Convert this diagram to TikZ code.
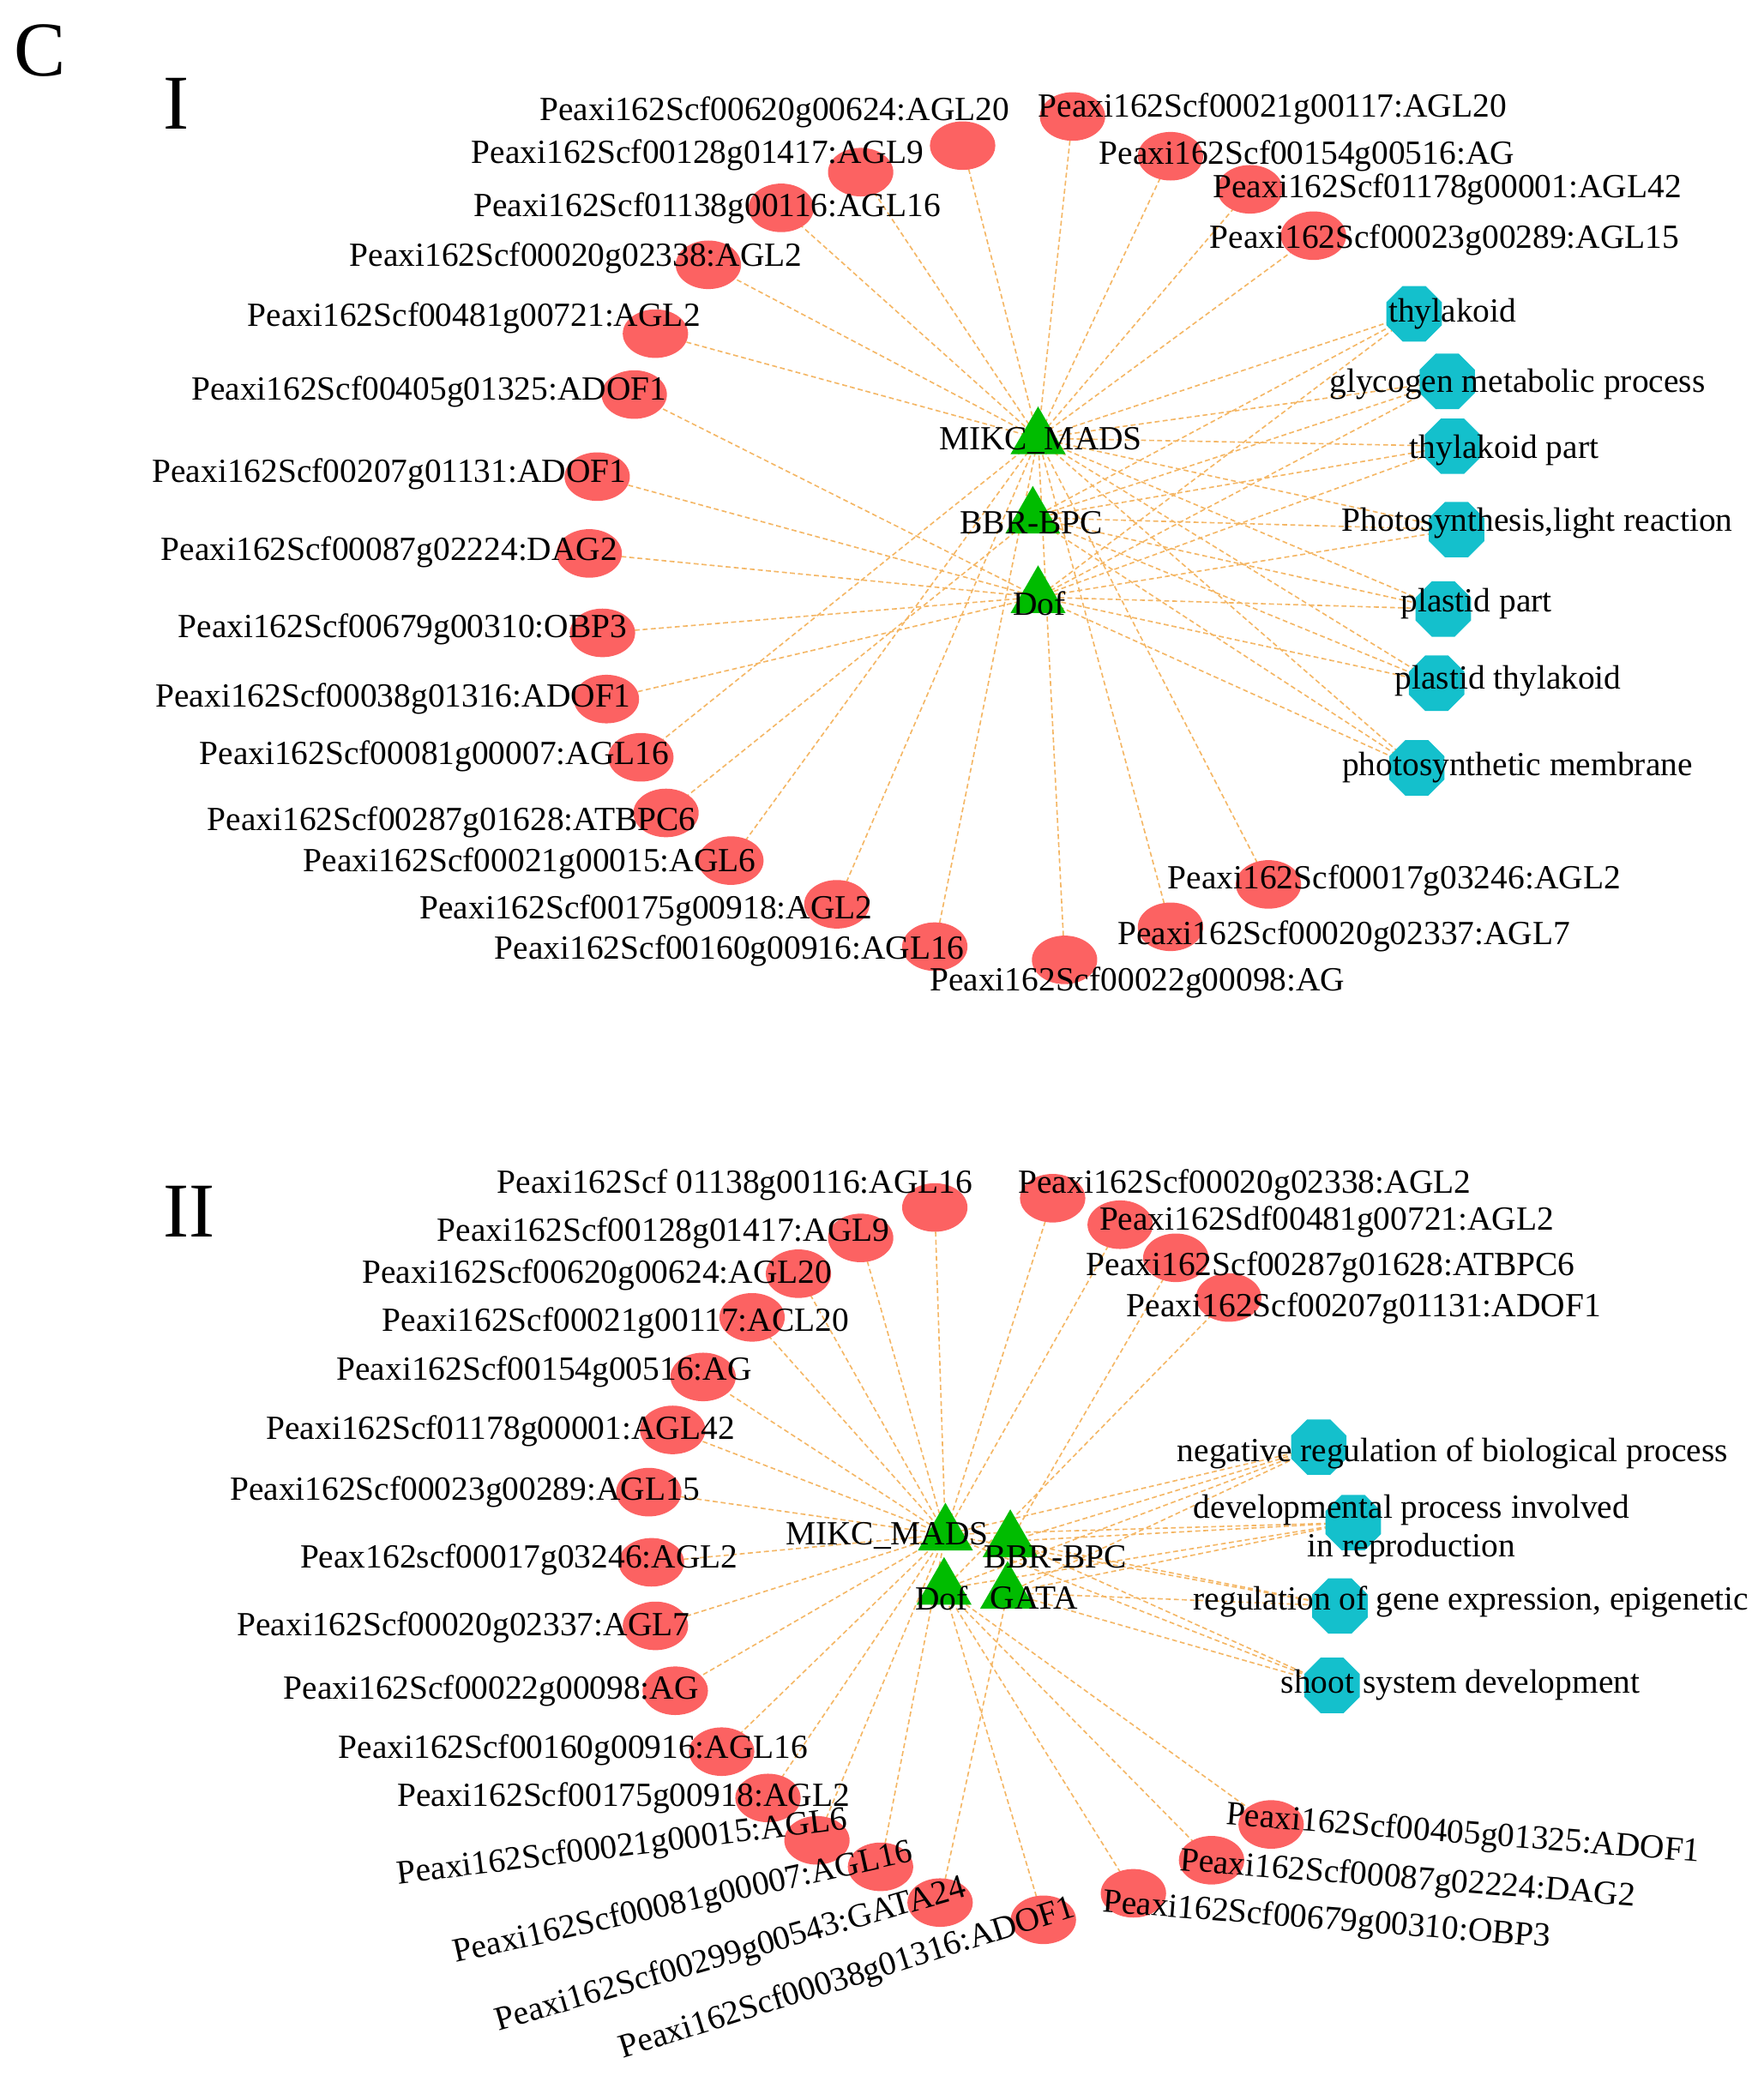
\documentclass[tikz,border=0pt]{standalone}
\usepackage{fontspec}
\setmainfont{Liberation Serif}
\usetikzlibrary{shapes.geometric}
\pgfdeclarelayer{bg}
\pgfsetlayers{bg,main}
\definecolor{nred}{RGB}{252,98,98}
\definecolor{ncyan}{RGB}{20,192,204}
\definecolor{ngreen}{RGB}{0,188,0}
\definecolor{eorange}{RGB}{244,182,100}
\tikzset{
  gene/.style={ellipse, fill=nred, draw=none, minimum width=0.74cm, minimum height=0.55cm, inner sep=0pt},
  term/.style={regular polygon, regular polygon sides=8, fill=ncyan, draw=none, minimum size=0.68cm, inner sep=0pt},
  hub/.style={regular polygon, regular polygon sides=3, fill=ngreen, draw=none, minimum size=0.72cm, inner sep=0pt},
  lbl/.style={font=\fontsize{10.9}{12.5}\selectfont, inner sep=0pt, text=black},
  big/.style={font=\fontsize{25}{28}\selectfont, inner sep=0pt},
  lnk/.style={draw=eorange, line width=0.45pt, dash pattern=on 1.6pt off 1pt},
}
\begin{document}
\begin{tikzpicture}[x=0.015cm,y=-0.015cm]
\useasboundingbox (0,0) rectangle (1332,1568);
\node[big] (lC) at (30,38) {C};
\node[big] (lI) at (133,78) {I};
\node[big] (lII) at (143,915) {II};

% ---------------- Part I ----------------
\node[hub] (m1) at (784,331) {};
\node[hub] (b1) at (780,391) {};
\node[hub] (d1) at (784,451) {};

\node[gene] (g1) at (727,110) {};
\node[gene] (g2) at (810,88) {};
\node[gene] (g3) at (650,130) {};
\node[gene] (g4) at (884,118) {};
\node[gene] (g5) at (944,143) {};
\node[gene] (g6) at (590,157) {};
\node[gene] (g7) at (992,178) {};
\node[gene] (g8) at (535,200) {};
\node[gene] (g9) at (495,252) {};
\node[gene] (g10) at (479,298) {};
\node[gene] (g11) at (451,360) {};
\node[gene] (g12) at (445,418) {};
\node[gene] (g13) at (455,478) {};
\node[gene] (g14) at (458,528) {};
\node[gene] (g15) at (484,572) {};
\node[gene] (g16) at (503,614) {};
\node[gene] (g17) at (552,650) {};
\node[gene] (g18) at (632,683) {};
\node[gene] (g19) at (706,715) {};
\node[gene] (g20) at (804,725) {};
\node[gene] (g21) at (884,700) {};
\node[gene] (g22) at (958,668) {};

\node[term] (c1) at (1068,237) {};
\node[term] (c2) at (1093,288) {};
\node[term] (c3) at (1097,337) {};
\node[term] (c4) at (1100,400) {};
\node[term] (c5) at (1090,460) {};
\node[term] (c6) at (1085,516) {};
\node[term] (c7) at (1070,580) {};

\begin{pgfonlayer}{bg}
\foreach \g in {g1,g2,g3,g4,g5,g6,g7,g8,g9,g15,g17,g18,g19,g20,g21,g22}
  \draw[lnk] (\g.center) -- (m1.center);
\foreach \g in {g10,g11,g12,g13,g14}
  \draw[lnk] (\g.center) -- (d1.center);
\draw[lnk] (g16.center) -- (b1.center);
\foreach \c in {c1,c2,c3,c4,c5,c6,c7}{
  \draw[lnk] (\c.center) -- (m1.center);
  \draw[lnk] (\c.center) -- (b1.center);
  \draw[lnk] (\c.center) -- (d1.center);
}
\end{pgfonlayer}

\node[lbl] (m1t) at (786,333) {MIKC\_MADS};
\node[lbl] (b1t) at (779,395) {BBR-BPC};
\node[lbl] (d1t) at (785,456) {Dof};

\node[lbl] (g1t) at (585,85) {Peaxi162Scf00620g00624:AGL20};
\node[lbl] (g2t) at (961,82) {Peaxi162Scf00021g00117:AGL20};
\node[lbl] (g3t) at (527,117) {Peaxi162Scf00128g01417:AGL9};
\node[lbl] (g4t) at (987,118) {Peaxi162Scf00154g00516:AG};
\node[lbl] (g5t) at (1093,143) {Peaxi162Scf01178g00001:AGL42};
\node[lbl] (g6t) at (534,157) {Peaxi162Scf01138g00116:AGL16};
\node[lbl] (g7t) at (1091,181) {Peaxi162Scf00023g00289:AGL15};
\node[lbl] (g8t) at (435,195) {Peaxi162Scf00020g02338:AGL2};
\node[lbl] (g9t) at (358,240) {Peaxi162Scf00481g00721:AGL2};
\node[lbl] (g10t) at (324,296) {Peaxi162Scf00405g01325:ADOF1};
\node[lbl] (g11t) at (294,358) {Peaxi162Scf00207g01131:ADOF1};
\node[lbl] (g12t) at (294,417) {Peaxi162Scf00087g02224:DAG2};
\node[lbl] (g13t) at (304,475) {Peaxi162Scf00679g00310:OBP3};
\node[lbl] (g14t) at (297,528) {Peaxi162Scf00038g01316:ADOF1};
\node[lbl] (g15t) at (328,571) {Peaxi162Scf00081g00007:AGL16};
\node[lbl] (g16t) at (341,621) {Peaxi162Scf00287g01628:ATBPC6};
\node[lbl] (g17t) at (400,652) {Peaxi162Scf00021g00015:AGL6};
\node[lbl] (g18t) at (488,688) {Peaxi162Scf00175g00918:AGL2};
\node[lbl] (g19t) at (551,718) {Peaxi162Scf00160g00916:AGL16};
\node[lbl] (g20t) at (859,742) {Peaxi162Scf00022g00098:AG};
\node[lbl] (g21t) at (1015,707) {Peaxi162Scf00020g02337:AGL7};
\node[lbl] (g22t) at (1053,665) {Peaxi162Scf00017g03246:AGL2};

\node[lbl] (c1t) at (1097,237) {thylakoid};
\node[lbl] (c2t) at (1146,290) {glycogen metabolic process};
\node[lbl] (c3t) at (1136,340) {thylakoid part};
\node[lbl] (c4t) at (1161,395) {Photosynthesis,light reaction};
\node[lbl] (c5t) at (1115,456) {plastid part};
\node[lbl] (c6t) at (1139,514) {plastid thylakoid};
\node[lbl] (c7t) at (1146,580) {photosynthetic membrane};

% ---------------- Part II ----------------
\node[hub] (m2) at (714,1159) {};
\node[hub] (b2) at (763,1164) {};
\node[hub] (d2) at (713,1200) {};
\node[hub] (a2) at (761,1203) {};

\node[gene] (h1) at (706,912) {};
\node[gene] (h2) at (795,905) {};
\node[gene] (h3) at (650,935) {};
\node[gene] (h4) at (846,925) {};
\node[gene] (h5) at (603,962) {};
\node[gene] (h6) at (888,950) {};
\node[gene] (h7) at (568,995) {};
\node[gene] (h8) at (928,980) {};
\node[gene] (h9) at (531,1040) {};
\node[gene] (h10) at (508,1080) {};
\node[gene] (h11) at (490,1127) {};
\node[gene] (h12) at (492,1180) {};
\node[gene] (h13) at (495,1228) {};
\node[gene] (h14) at (510,1277) {};
\node[gene] (h15) at (545,1323) {};
\node[gene] (h16) at (580,1358) {};
\node[gene] (h17) at (617,1390) {};
\node[gene] (h18) at (665,1410) {};
\node[gene] (h19) at (710,1437) {};
\node[gene] (h20) at (788,1450) {};
\node[gene] (h21) at (856,1430) {};
\node[gene] (h22) at (915,1405) {};
\node[gene] (h23) at (960,1378) {};

\node[term] (t1) at (996,1093) {};
\node[term] (t2) at (1022,1150) {};
\node[term] (t3) at (1012,1213) {};
\node[term] (t4) at (1006,1273) {};

\begin{pgfonlayer}{bg}
\foreach \g in {h1,h2,h3,h4,h5,h7,h9,h10,h11,h12,h13,h14,h15,h16,h17,h18}
  \draw[lnk] (\g.center) -- (m2.center);
\draw[lnk] (h6.center) -- (b2.center);
\foreach \g in {h8,h20,h21,h22,h23}
  \draw[lnk] (\g.center) -- (d2.center);
\draw[lnk] (h19.center) -- (a2.center);
\foreach \c in {t1,t2}{
  \draw[lnk] (\c.center) -- (m2.center);
  \draw[lnk] (\c.center) -- (b2.center);
  \draw[lnk] (\c.center) -- (d2.center);
  \draw[lnk] (\c.center) -- (a2.center);
}
\foreach \c in {t3,t4}{
  \draw[lnk] (\c.center) -- (m2.center);
  \draw[lnk] (\c.center) -- (b2.center);
  \draw[lnk] (\c.center) -- (a2.center);
}
\end{pgfonlayer}

\node[lbl] (m2t) at (670,1160) {MIKC\_MADS};
\node[lbl] (b2t) at (797,1176) {BBR-BPC};
\node[lbl] (d2t) at (711,1207) {Dof};
\node[lbl] (a2t) at (781,1207) {GATA};

\node[lbl] (h1t) at (555,895) {Peaxi162Scf 01138g00116:AGL16};
\node[lbl] (h2t) at (940,895) {Peaxi162Scf00020g02338:AGL2};
\node[lbl] (h3t) at (501,931) {Peaxi162Scf00128g01417:AGL9};
\node[lbl] (h4t) at (1002,923) {Peaxi162Sdf00481g00721:AGL2};
\node[lbl] (h5t) at (451,963) {Peaxi162Scf00620g00624:AGL20};
\node[lbl] (h6t) at (1005,957) {Peaxi162Scf00287g01628:ATBPC6};
\node[lbl] (h7t) at (465,999) {Peaxi162Scf00021g00117:ACL20};
\node[lbl] (h8t) at (1030,988) {Peaxi162Scf00207g01131:ADOF1};
\node[lbl] (h9t) at (411,1036) {Peaxi162Scf00154g00516:AG};
\node[lbl] (h10t) at (378,1081) {Peaxi162Scf01178g00001:AGL42};
\node[lbl] (h11t) at (351,1127) {Peaxi162Scf00023g00289:AGL15};
\node[lbl] (h12t) at (392,1178) {Peax162scf00017g03246:AGL2};
\node[lbl] (h13t) at (350,1229) {Peaxi162Scf00020g02337:AGL7};
\node[lbl] (h14t) at (371,1277) {Peaxi162Scf00022g00098:AG};
\node[lbl] (h15t) at (433,1322) {Peaxi162Scf00160g00916:AGL16};
\node[lbl] (h16t) at (471,1358) {Peaxi162Scf00175g00918:AGL2};
\node[lbl, rotate=7] (h17t) at (470,1396) {Peaxi162Scf00021g00015:AGL6};
\node[lbl, rotate=12.5] (h18t) at (516,1438) {Peaxi162Scf00081g00007:AGL16};
\node[lbl, rotate=16] (h19t) at (552,1477) {Peaxi162Scf00299g00543:GATA24};
\node[lbl, rotate=17.4] (h20t) at (640,1495) {Peaxi162Scf00038g01316:ADOF1};
\node[lbl, rotate=-4.5] (h21t) at (1002,1451) {Peaxi162Scf00679g00310:OBP3};
\node[lbl, rotate=-4.5] (h22t) at (1063,1420) {Peaxi162Scf00087g02224:DAG2};
\node[lbl, rotate=-4.5] (h23t) at (1105,1386) {Peaxi162Scf00405g01325:ADOF1};

\node[lbl] (t1t) at (1097,1098) {negative regulation of biological process};
\node[lbl, align=center] (t2t) at (1066,1155) {developmental process involved\\in reproduction};
\node[lbl] (t3t) at (1111,1210) {regulation of gene expression, epigenetic};
\node[lbl] (t4t) at (1103,1273) {shoot system development};
\end{tikzpicture}
\end{document}
